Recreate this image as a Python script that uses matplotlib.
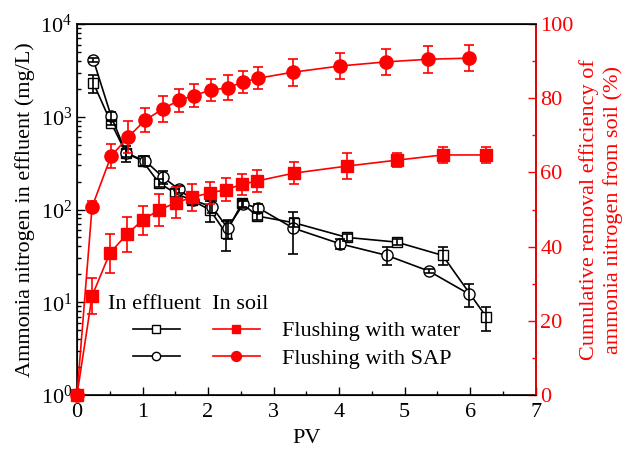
import numpy as np
import matplotlib.pyplot as plt
from matplotlib.ticker import MultipleLocator, LogLocator, NullFormatter

plt.rcParams['font.family'] = ['Liberation Serif', 'DejaVu Serif']
plt.rcParams['mathtext.fontset'] = 'custom'
plt.rcParams['mathtext.rm'] = 'Liberation Serif'
plt.rcParams['font.size'] = 16

# effluent concentration (mg/L), flushing with water
pv_eff_water = [0.25, 0.52, 0.75, 1.0, 1.25, 1.5, 1.75, 2.03, 2.27, 2.52, 2.75, 3.31, 4.12, 4.88, 5.58, 6.25]
eff_water = [2310, 860, 405, 334, 194, 150, 126, 99, 56, 117, 85, 72, 50, 44.5, 32, 6.9]
eff_water_err = [500, 50, 80, 40, 20, 15, 15, 26, 20, 10, 8, 8, 4, 3, 7, 2]

# effluent concentration (mg/L), flushing with SAP
pv_eff_sap = [0.25, 0.52, 0.75, 1.04, 1.31, 1.55, 1.77, 2.06, 2.3, 2.54, 2.77, 3.3, 4.02, 4.73, 5.37, 5.98]
eff_sap = [4100, 1020, 405, 335, 224, 166, 126, 107, 63, 115, 104, 63, 42.6, 32, 21.7, 12.3]
eff_sap_err = [200, 100, 40, 40, 35, 15, 15, 15, 15, 10, 12, 30, 5, 7, 1, 3.5]

# cumulative removal from soil (%)
pv_soil_water = [0, 0.23, 0.5, 0.76, 1.0, 1.25, 1.51, 1.76, 2.03, 2.27, 2.52, 2.75, 3.31, 4.12, 4.88, 5.58, 6.25]
soil_water = [0, 26.7, 38.2, 43.3, 47.1, 49.9, 51.8, 53.3, 54.5, 55.3, 56.8, 57.7, 59.8, 61.7, 63.3, 64.7, 64.7]
soil_water_err = [0, 4.8, 5.2, 4.8, 3.9, 4.3, 4.2, 3.6, 2.9, 3.1, 2.9, 2.9, 2.9, 3.6, 1.9, 2.1, 2.2]

pv_soil_sap = [0, 0.23, 0.52, 0.78, 1.04, 1.31, 1.55, 1.78, 2.04, 2.3, 2.54, 2.77, 3.29, 4.02, 4.72, 5.36, 5.98]
soil_sap = [0, 50.7, 64.4, 69.5, 74.1, 77.1, 79.4, 80.7, 82.2, 82.8, 84.4, 85.4, 87.0, 88.7, 89.8, 90.5, 90.8]
soil_sap_err = [0, 1.5, 3.3, 4.3, 3.2, 3.6, 3.2, 3.0, 3.0, 3.4, 3.0, 3.0, 3.7, 3.4, 3.5, 3.6, 3.5]

fig = plt.figure(figsize=(6.25, 4.49), dpi=100)
ax = fig.add_axes([0.1232, 0.1203, 0.7338, 0.8262])
ax2 = ax.twinx()

red = '#ff0000'

# effluent (left, log)
l_ew, = ax.plot(pv_eff_water, eff_water, '-s', color='k', mfc='white', mec='k', ms=7, lw=1.2, zorder=2)
ax.errorbar(pv_eff_water, eff_water, yerr=eff_water_err, fmt='none', ecolor='k', elinewidth=1.2, capsize=3.5, capthick=1.2, zorder=3)
l_es, = ax.plot(pv_eff_sap, eff_sap, '-o', color='k', mfc='white', mec='k', ms=8, lw=1.2, zorder=2)
ax.errorbar(pv_eff_sap, eff_sap, yerr=eff_sap_err, fmt='none', ecolor='k', elinewidth=1.2, capsize=3.5, capthick=1.2, zorder=3)

ax.set_yscale('log')
ax.set_ylim(1, 1e4)
ax.set_xlim(0, 7)
ax.xaxis.set_major_locator(MultipleLocator(1))
ax.xaxis.set_minor_locator(MultipleLocator(0.5))
ax.yaxis.set_major_locator(LogLocator(base=10, numticks=10))
ax.yaxis.set_minor_locator(LogLocator(base=10, subs=np.arange(2, 10), numticks=50))
ax.yaxis.set_minor_formatter(NullFormatter())
ax.tick_params(axis='both', which='major', direction='in', length=6, width=1, labelsize=16)
ax.tick_params(axis='both', which='minor', direction='in', length=3, width=1)
ax.tick_params(axis='y', which='both', right=False)
ax.tick_params(axis='x', which='both', top=False, pad=6)
ax.set_xlabel('PV', fontsize=16, labelpad=5)
ax.set_ylabel('Ammonia nitrogen in effluent (mg/L)', fontsize=16, labelpad=4)
for sp in ax.spines.values():
    sp.set_linewidth(1.2)

# soil removal (right, linear)
l_sw, = ax2.plot(pv_soil_water, soil_water, '-s', color=red, ms=8.5, lw=1.2, clip_on=False, zorder=4)
ax2.errorbar(pv_soil_water, soil_water, yerr=soil_water_err, fmt='none', ecolor=red, elinewidth=1.2, capsize=3.5, capthick=1.2, zorder=4)
l_ss, = ax2.plot(pv_soil_sap, soil_sap, '-o', color=red, ms=9.5, lw=1.2, clip_on=False, zorder=4)
ax2.errorbar(pv_soil_sap, soil_sap, yerr=soil_sap_err, fmt='none', ecolor=red, elinewidth=1.2, capsize=3.5, capthick=1.2, zorder=4)

ax2.set_ylim(0, 100)
ax2.yaxis.set_major_locator(MultipleLocator(20))
ax2.yaxis.set_minor_locator(MultipleLocator(10))
ax2.tick_params(axis='y', which='major', direction='in', length=6, width=1, colors=red, labelsize=16)
ax2.tick_params(axis='y', which='minor', direction='in', length=3, width=1, colors=red)
ax2.spines['right'].set_color(red)
ax2.spines['right'].set_linewidth(1.2)
ax2.set_ylabel('Cumulative removal efficiency of\nammonia nitrogen from soil (%)',
               color=red, fontsize=16, labelpad=4, linespacing=1.25)

# legend: black handles | red handles + labels, header as plain text
ax2.text(0.068, 0.232, 'In effluent  In soil', transform=ax2.transAxes,
         fontsize=16, ha='left', va='baseline')
leg = ax2.legend([l_ew, l_es, l_sw, l_ss], ['', '', 'Flushing with water', 'Flushing with SAP'],
                 ncol=2, frameon=False, fontsize=16, handlelength=2.1, columnspacing=0.5,
                 handletextpad=1.0, labelspacing=0.3, borderpad=0, borderaxespad=0,
                 markerscale=0.75, loc='upper left', bbox_to_anchor=(0.122, 0.2))

fig.savefig('out.png', dpi=100)
